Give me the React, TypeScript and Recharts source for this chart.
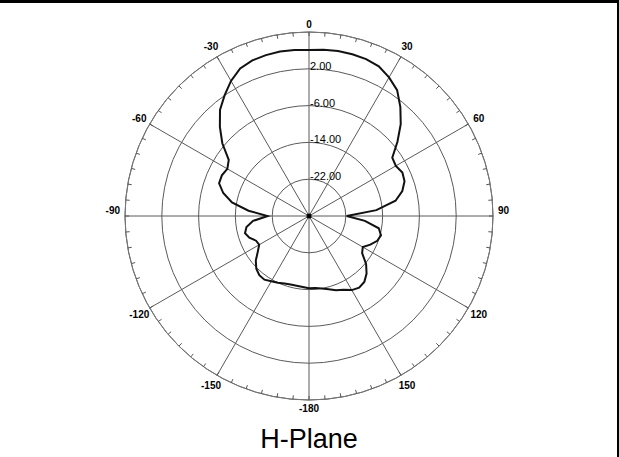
import React from "react";
import { RadarChart, Radar, PolarGrid, PolarAngleAxis, PolarRadiusAxis } from "recharts";

// azimuth in degrees, clockwise from the top, 5 degree steps
const angles = [
  0, 5, 10, 15, 20, 25, 30, 35, 40, 45, 50, 55, 60, 65, 70, 75, 80, 85,
  90, 95, 100, 105, 110, 115, 120, 125, 130, 135, 140, 145, 150, 155, 160, 165, 170, 175,
  -180, -175, -170, -165, -160, -155, -150, -145, -140, -135, -130, -125, -120, -115, -110, -105, -100, -95,
  -90, -85, -80, -75, -70, -65, -60, -55, -50, -45, -40, -35, -30, -25, -20, -15, -10, -5,
];

// H-plane gain (dB), same order as angles
const gainDb = [
  6.1, 6.3, 6.4, 6.4, 6.3, 5.9, 4.8, 3.4, 0.9, -1.8, -4.9, -7.9, -8.2, -7.6, -7.9, -9.0, -10.9, -15.3,
  -21.8, -17.8, -14.6, -13.8, -14.2, -15.3, -16.5, -15.9, -13.8, -12.3, -11.3, -11.0, -11.4, -12.3, -12.8, -13.5, -14.0, -14.3,
  -14.3, -14.5, -14.6, -14.6, -14.4, -14.0, -13.6, -13.1, -13.2, -13.8, -14.9, -16.4, -17.5, -17.3, -16.2, -15.6, -16.2, -17.8,
  -21.0, -16.8, -13.0, -10.7, -9.2, -9.1, -9.5, -8.7, -5.4, -2.6, 0.1, 2.0, 3.9, 5.4, 6.0, 6.2, 6.3, 6.2,
];

const ringTicks = [-30, -22, -14, -6, 2, 10];
const ringLabels = [-22, -14, -6, 2];
const spokeAngles = [0, 30, 60, 90, 120, 150, 180, 210, 240, 270, 300, 330];
const title = "H-Plane";

const data = angles.map((a, i) => ({ angle: a, gain: gainDb[i] }));

const W = 619;
const H = 457;
const CX = 309;
const CY = 216;
const R = 184;
const font = "'Liberation Sans', Arial, sans-serif";

const AngleTick = (props: any) => {
  const { payload } = props;
  const rad = (-payload.coordinate * Math.PI) / 180;
  const cos = Math.cos(rad);
  const sin = Math.sin(rad);
  const v = payload.value as number;
  let label = null;
  if (v % 30 === 0) {
    if (Math.abs(v) === 90) {
      label = (
        <text x={CX + (R + 5) * cos} y={CY - 6} textAnchor={v > 0 ? "start" : "end"}
          dominantBaseline="central" fontSize={10} fontWeight="bold" fontFamily={font} fill="#000">{v}</text>
      );
    } else {
      const off = v === 0 || v === -180 ? 8 : 12;
      label = (
        <text x={CX + (R + off) * cos} y={CY + (R + off) * sin} textAnchor="middle"
          dominantBaseline="central" fontSize={10} fontWeight="bold" fontFamily={font} fill="#000">{v}</text>
      );
    }
  }
  return (
    <g>
      <line x1={CX + R * cos} y1={CY + R * sin} x2={CX + (R - 4) * cos} y2={CY + (R - 4) * sin}
        stroke="#555" strokeWidth={1} />
      {label}
    </g>
  );
};

const RingTick = (props: any) => {
  const { x, y, payload } = props;
  if (!ringLabels.includes(payload.value)) return <g />;
  return (
    <text x={x + 1} y={y + 1} textAnchor="start" fontSize={11} fontFamily={font} fill="#000">
      {Number(payload.value).toFixed(2)}
    </text>
  );
};

export default function App() {
  return (
    <div style={{ position: "absolute", left: 0, top: 0, width: W, height: H, background: "#fff" }}>
      <RadarChart width={W} height={H} data={data} cx={CX} cy={CY} outerRadius={R}
        startAngle={90} endAngle={-270} margin={{ top: 0, right: 0, bottom: 0, left: 0 }}>
        <PolarGrid gridType="circle" polarAngles={spokeAngles} stroke="#5a5a5a" strokeWidth={1} />
        <PolarAngleAxis dataKey="angle" axisLineType="circle" stroke="#777" tickLine={false} tick={<AngleTick />} />
        <PolarRadiusAxis angle={90} type="number" domain={[-30, 10]} ticks={ringTicks}
          axisLine={false} tickLine={false} tick={<RingTick />} />
        <Radar dataKey="gain" stroke="#111" strokeWidth={2} fill="none" fillOpacity={0}
          dot={false} isAnimationActive={false} />
        <circle cx={CX} cy={CY} r={2.5} fill="#000" />
        <text x={CX} y={448} textAnchor="middle" fontSize={27} fontFamily={font} fill="#000">{title}</text>
      </RadarChart>
      <div style={{ position: "absolute", left: 0, top: 0, width: W, height: 3, background: "#000" }} />
      <div style={{ position: "absolute", right: 0, top: 0, width: 2, height: H, background: "#000" }} />
    </div>
  );
}
